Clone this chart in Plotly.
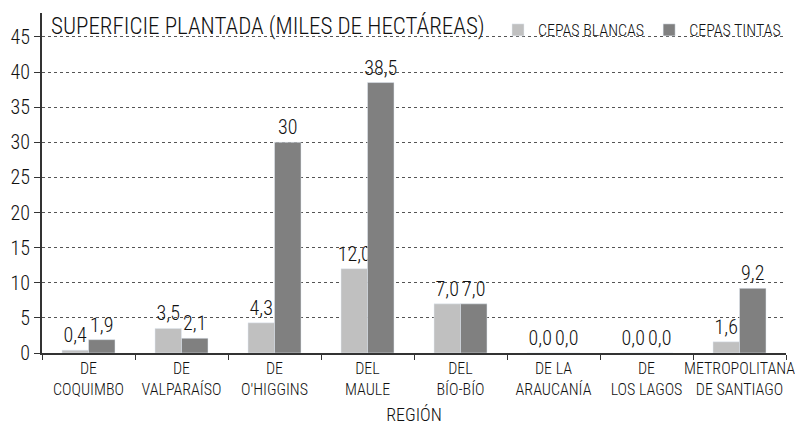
import plotly.graph_objects as go

regiones = ["DE<br>COQUIMBO", "DE<br>VALPARAÍSO", "DE<br>O'HIGGINS", "DEL<br>MAULE",
            "DEL<br>BÍO-BÍO", "DE LA<br>ARAUCANÍA", "DE<br>LOS LAGOS", "METROPOLITANA<br>DE SANTIAGO"]
blancas = [0.4, 3.5, 4.3, 12.0, 7.0, 0.0, 0.0, 1.6]
tintas = [1.9, 2.1, 30, 38.5, 7.0, 0.0, 0.0, 9.2]
blancas_txt = ["0,4", "3,5", "4,3", "12,0", "7,0", "0,0", "0,0", "1,6"]
tintas_txt = ["1,9", "2,1", "30", "38,5", "7,0", "0,0", "0,0", "9,2"]
yticks = [0, 5, 10, 15, 20, 25, 30, 35, 40, 45]

FONT = "Roboto Condensed, Roboto, sans-serif"
TXT = "#111"

fig = go.Figure()
fig.add_trace(go.Bar(x=regiones, y=blancas, name="CEPAS BLANCAS", marker_color="#c0c0c0",
                     text=blancas_txt, textposition="outside", cliponaxis=False,
                     constraintext="none",
                     textfont=dict(size=20, color=TXT, weight=300)))
fig.add_trace(go.Bar(x=regiones, y=tintas, name="CEPAS TINTAS", marker_color="#808080",
                     text=tintas_txt, textposition="outside", cliponaxis=False,
                     constraintext="none",
                     textfont=dict(size=20, color=TXT, weight=300)))

# page body has an 8px margin, so the figure is offset by (8, 8) in the window
fig.update_layout(
    width=795, height=428,
    margin=dict(l=34, r=17, t=5, b=83, autoexpand=False),
    paper_bgcolor="white", plot_bgcolor="white",
    font=dict(family=FONT, size=17, color=TXT, weight=300),
    barmode="group", bargap=0.43, bargroupgap=0,
    showlegend=True,
    legend=dict(orientation="h", x=1.0, xanchor="right", y=1.0, yanchor="top",
                font=dict(size=16, weight=300, color=TXT), bgcolor="rgba(0,0,0,0)",
                itemwidth=30, traceorder="normal", tracegroupgap=0),
    annotations=[dict(text="SUPERFICIE PLANTADA (MILES DE HECTÁREAS)", x=0.009, xref="paper",
                      y=1.0, yref="paper", xanchor="left", yanchor="top", yshift=3,
                      showarrow=False, font=dict(size=23, color=TXT, weight=300))],
)
fig.update_xaxes(type="category", tickson="boundaries", ticks="outside", ticklen=5,
                 tickcolor="#333", showline=True, linecolor="#333", linewidth=2,
                 showgrid=False, tickangle=0, tickfont=dict(size=16, weight=300, color=TXT),
                 automargin=False,
                 title=dict(text="REGIÓN", font=dict(size=18, weight=300, color=TXT), standoff=10))
fig.update_yaxes(range=[0, 48.4], tickvals=yticks, ticks="outside", ticklen=6,
                 tickcolor="#333", showline=True, linecolor="#333", linewidth=2,
                 showgrid=True, gridcolor="#555", griddash="dot", gridwidth=1,
                 zeroline=False, automargin=False,
                 tickfont=dict(size=20, weight=300, color=TXT))

fig.write_html("out.html")
